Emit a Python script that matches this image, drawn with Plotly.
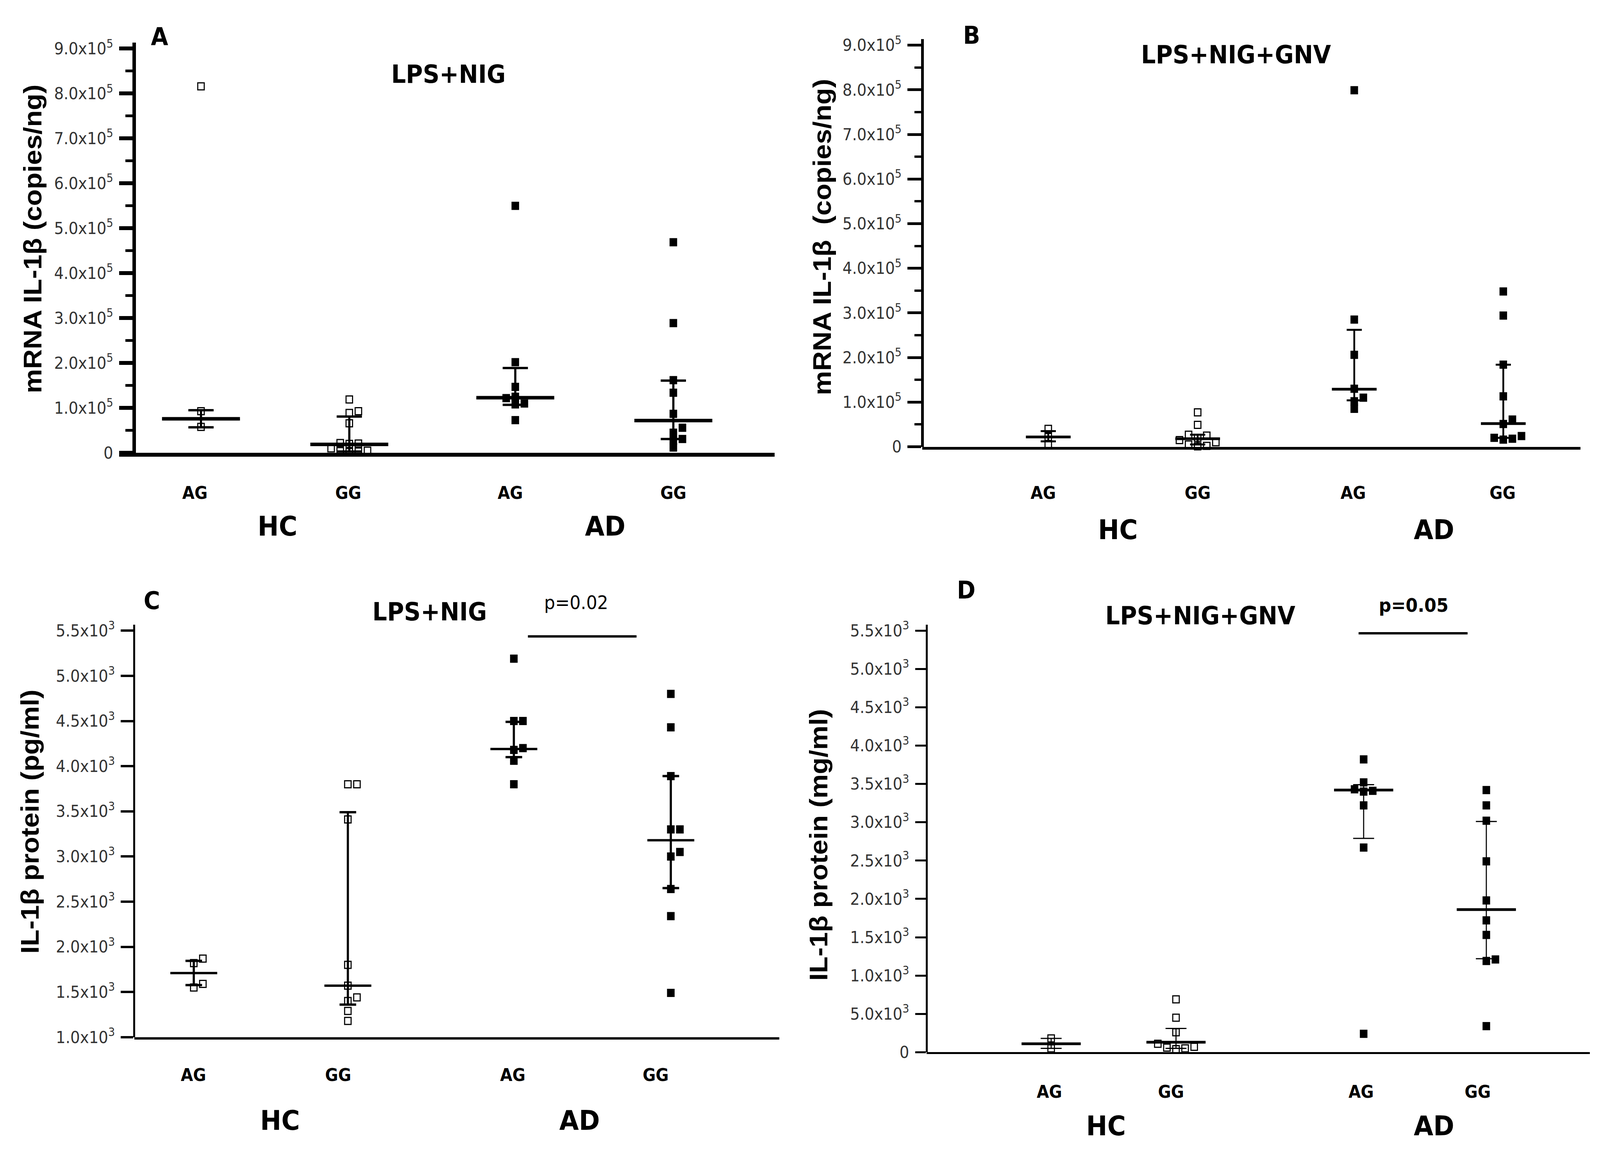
import plotly.graph_objects as go

W, H = 4434, 2959

# ---------------- data ----------------
CATEGORIES = ["AG", "GG", "AG", "GG"]          # HC AG, HC GG, AD AG, AD GG
GROUP_NAMES = ["HC", "AD"]
TITLES = ["LPS+NIG", "LPS+NIG+GNV", "LPS+NIG", "LPS+NIG+GNV"]
PANEL_LETTERS = ["A", "B", "C", "D"]
Y_TITLES = ["mRNA IL-1β (copies/ng)", "mRNA IL-1β  (copies/ng)",
            "IL-1β protein (pg/ml)", "IL-1β protein (mg/ml)"]

# Panel A: mRNA IL-1beta, LPS+NIG (copies/ng)
A_HC_AG = [8.16e5, 0.93e5, 0.58e5]
A_HC_GG = [1.19e5, 0.93e5, 0.89e5, 0.66e5, 0.22e5, 0.21e5, 0.20e5, 0.10e5, 0.05e5, 0.04e5, 0.03e5, 0.02e5]
A_AD_AG = [5.50e5, 2.02e5, 1.47e5, 1.25e5, 1.22e5, 1.10e5, 1.08e5, 0.73e5]
A_AD_GG = [4.69e5, 2.89e5, 1.62e5, 1.34e5, 0.87e5, 0.56e5, 0.45e5, 0.31e5, 0.28e5, 0.12e5]
A_MEDIAN = [0.76e5, 0.19e5, 1.23e5, 0.72e5]
A_Q1 = [0.57e5, 0.03e5, 1.07e5, 0.31e5]
A_Q3 = [0.95e5, 0.81e5, 1.89e5, 1.61e5]

# Panel B: mRNA IL-1beta, LPS+NIG+GNV (copies/ng)
B_HC_AG = [0.40e5, 0.22e5, 0.06e5]
B_HC_GG = [0.77e5, 0.49e5, 0.27e5, 0.25e5, 0.20e5, 0.15e5, 0.10e5, 0.05e5, 0.02e5, 0.01e5]
B_AD_AG = [7.99e5, 2.85e5, 2.06e5, 1.30e5, 1.10e5, 1.02e5, 0.85e5]
B_AD_GG = [3.48e5, 2.94e5, 1.84e5, 1.13e5, 0.61e5, 0.51e5, 0.24e5, 0.20e5, 0.18e5, 0.16e5]
B_MEDIAN = [0.22e5, 0.18e5, 1.29e5, 0.52e5]
B_Q1 = [0.12e5, 0.05e5, 1.04e5, 0.20e5]
B_Q3 = [0.35e5, 0.27e5, 2.62e5, 1.84e5]

# Panel C: IL-1beta protein, LPS+NIG (pg/ml)
C_HC_AG = [1870, 1820, 1590, 1550]
C_HC_GG = [3800, 3800, 3410, 1800, 1570, 1440, 1400, 1290, 1180]
C_AD_AG = [5190, 4500, 4500, 4200, 4180, 4060, 3800]
C_AD_GG = [4800, 4430, 3890, 3300, 3300, 3050, 3000, 2640, 2340, 1490]
C_MEDIAN = [1710, 1570, 4190, 3180]
C_Q1 = [1577, 1360, 4100, 2650]
C_Q3 = [1845, 3490, 4490, 3890]

# Panel D: IL-1beta protein, LPS+NIG+GNV (mg/ml)
D_HC_AG = [180, 50]
D_HC_GG = [690, 450, 260, 110, 70, 60, 50, 40]
D_AD_AG = [3820, 3520, 3430, 3410, 3400, 3220, 2670, 240]
D_AD_GG = [3420, 3220, 3020, 2490, 1980, 1720, 1530, 1210, 1190, 340]
D_MEDIAN = [110, 130, 3420, 1860]
D_Q1 = [50, 50, 2790, 1220]
D_Q3 = [180, 310, 3490, 3010]

# tick values / labels
AB_TICKVALS = [k * 1e5 for k in range(0, 10)]
AB_TICKTEXT = ["0"] + [f"{k}.0x10<sup>5</sup>" for k in range(1, 10)]
AB_MINOR = [(k + 0.5) * 1e5 for k in range(0, 9)]
C_TICKVALS = [1000 + 500 * k for k in range(0, 10)]
C_TICKTEXT = [f"{v/1000:.1f}x10<sup>3</sup>" for v in C_TICKVALS]
D_TICKVALS = [500 * k for k in range(0, 12)]
D_TICKTEXT = ["0", "5.0x10<sup>3</sup>"] + [f"{v/1000:.1f}x10<sup>3</sup>" for v in D_TICKVALS[2:]]

P_TEXTS = [None, None, "p=0.02", "<b>p=0.05</b>"]

# ---------------- layout (pixel geometry of each panel) ----------------
PANELS = [
    dict(pts=[A_HC_AG, A_HC_GG, A_AD_AG, A_AD_GG], med=A_MEDIAN, q1=A_Q1, q3=A_Q3,
         xdom=(330, 2147), ypos=372, ydom=(95, 1160), yr=(0, 9.137e5),
         tv=AB_TICKVALS, tt=AB_TICKTEXT, minor=AB_MINOR,
         cat_x=[557, 968, 1428, 1866], lab_x=[540, 965, 1414, 1866], lab_y=1264,
         grp_x=[769, 1677], grp_y=1350, title_xy=(1242, 177), letter_xy=(442, 80),
         ytitle_xy=(91, 605), axw=10, tlen=37, tw=10, mlen=20, mw=7,
         medhalf=108, medth=9, caphalf=35, capth=6),
    dict(pts=[B_HC_AG, B_HC_GG, B_AD_AG, B_AD_GG], med=B_MEDIAN, q1=B_Q1, q3=B_Q3,
         xdom=(2556, 4380), ypos=2556, ydom=(86, 1144), yr=(0, 9.138e5),
         tv=AB_TICKVALS, tt=AB_TICKTEXT, minor=AB_MINOR,
         cat_x=[2905, 3319, 3753, 4166], lab_x=[2891, 3319, 3750, 4164], lab_y=1264,
         grp_x=[3098, 3974], grp_y=1359, title_xy=(3425, 127), letter_xy=(2692, 77),
         ytitle_xy=(2278, 600), axw=7, tlen=38, tw=7, mlen=19, mw=6,
         medhalf=62, medth=7, caphalf=21, capth=5),
    dict(pts=[C_HC_AG, C_HC_GG, C_AD_AG, C_AD_GG], med=C_MEDIAN, q1=C_Q1, q3=C_Q3,
         xdom=(372, 2160), ypos=372, ydom=(1606, 2676), yr=(1000, 5565),
         tv=C_TICKVALS, tt=C_TICKTEXT, minor=None,
         cat_x=[537, 964, 1424, 1859], lab_x=[536, 937, 1421, 1817], lab_y=2774,
         grp_x=[776, 1606], grp_y=2892, title_xy=(1190, 1572), letter_xy=(421, 1543),
         ytitle_xy=(84, 2117), axw=6, tlen=34, tw=6, mlen=0, mw=0,
         medhalf=65, medth=6, caphalf=23, capth=6,
         pbar=(1463, 1764, 1636), ptext_xy=(1597, 1548)),
    dict(pts=[D_HC_AG, D_HC_GG, D_AD_AG, D_AD_GG], med=D_MEDIAN, q1=D_Q1, q3=D_Q3,
         xdom=(2568, 4406), ypos=2568, ydom=(1606, 2715), yr=(0, 5576),
         tv=D_TICKVALS, tt=D_TICKTEXT, minor=None,
         cat_x=[2913, 3259, 3779, 4119], lab_x=[2908, 3245, 3772, 4095], lab_y=2818,
         grp_x=[3065, 3974], grp_y=2906, title_xy=(3326, 1582), letter_xy=(2677, 1516),
         ytitle_xy=(2268, 2177), axw=5, tlen=30, tw=5, mlen=0, mw=0,
         medhalf=82, medth=7, caphalf=29, capth=3,
         pbar=(3765, 4067, 1628), ptext_xy=(3917, 1555)),
]

MARKER_SIZE = 21
TICK_FONT = dict(family="DejaVu Sans", size=42, color="#333333")


def px_x(px):
    return px / W


def px_y(py):
    return 1 - py / H


def swarm(center, values, ppu, size):
    """simple beeswarm: spread points that would overlap horizontally"""
    order = sorted(range(len(values)), key=lambda i: values[i])
    placed = []
    xs = [center] * len(values)
    step = size * 0.6
    cands = [0.0]
    for m in range(1, 20):
        cands += [m * step, -m * step]
    for i in order:
        y = values[i] * ppu
        for dx in cands:
            ok = True
            for (pxx, pyy) in placed:
                if abs(dx - pxx) < size * 0.85 and abs(y - pyy) < size * 0.85:
                    ok = False
                    break
            if ok:
                break
        placed.append((dx, y))
        xs[i] = center + dx
    return xs


fig = go.Figure()
annotations = []
shapes = []

for i, p in enumerate(PANELS):
    n = i + 1
    xa = "x" if n == 1 else f"x{n}"
    ya = "y" if n == 1 else f"y{n}"
    ppu = (p["ydom"][1] - p["ydom"][0]) / (p["yr"][1] - p["yr"][0])

    for g, vals in enumerate(p["pts"]):
        open_marker = g < 2
        xs = swarm(p["cat_x"][g], vals, ppu, MARKER_SIZE)
        fig.add_trace(go.Scatter(
            x=xs, y=vals, mode="markers", xaxis=xa, yaxis=ya,
            marker=dict(symbol="square", size=MARKER_SIZE - (3 if open_marker else 0),
                        color="white" if open_marker else "black",
                        line=dict(color="black", width=3 if open_marker else 0)),
            cliponaxis=False, showlegend=False, hoverinfo="skip"))
    for g in range(4):
        med = p["med"][g]
        fig.add_trace(go.Scatter(
            x=[p["cat_x"][g]], y=[med], mode="markers", xaxis=xa, yaxis=ya,
            marker=dict(size=1, color="rgba(0,0,0,0)"),
            error_y=dict(type="data", symmetric=False, array=[p["q3"][g] - med],
                         arrayminus=[med - p["q1"][g]], width=p["caphalf"],
                         thickness=p["capth"], color="black"),
            error_x=dict(type="constant", value=p["medhalf"], width=0,
                         thickness=p["medth"], color="black"),
            cliponaxis=False, showlegend=False, hoverinfo="skip"))

    xaxis = dict(domain=[px_x(p["xdom"][0]), px_x(p["xdom"][1])], range=list(p["xdom"]),
                 anchor=ya, showline=True, linecolor="black", linewidth=p["axw"],
                 showticklabels=False, ticks="", showgrid=False, zeroline=False,
                 fixedrange=True)
    yaxis = dict(domain=[px_y(p["ydom"][1]), px_y(p["ydom"][0])], range=list(p["yr"]),
                 anchor="free", position=px_x(p["ypos"]), showline=True,
                 linecolor="black", linewidth=p["axw"], ticks="outside",
                 ticklen=p["tlen"], tickwidth=p["tw"], tickcolor="black",
                 tickmode="array", tickvals=p["tv"], ticktext=p["tt"],
                 tickfont=TICK_FONT, ticklabelstandoff=8,
                 showgrid=False, zeroline=False, fixedrange=True)
    if p["minor"]:
        yaxis["minor"] = dict(tickmode="array", tickvals=p["minor"], ticks="outside",
                              ticklen=p["mlen"], tickwidth=p["mw"], tickcolor="black",
                              showgrid=False)
    fig.update_layout(**{("xaxis" if n == 1 else f"xaxis{n}"): xaxis,
                         ("yaxis" if n == 1 else f"yaxis{n}"): yaxis})

    # category labels
    for g, lab in enumerate(CATEGORIES):
        annotations.append(dict(text=f"<b>{lab}</b>", x=px_x(p["lab_x"][g]), y=px_y(p["lab_y"]),
                                xref="paper", yref="paper", showarrow=False,
                                xanchor="center", yanchor="middle",
                                font=dict(family="DejaVu Sans", size=44, color="black")))
    for g, lab in enumerate(GROUP_NAMES):
        annotations.append(dict(text=f"<b>{lab}</b>", x=px_x(p["grp_x"][g]), y=px_y(p["grp_y"]),
                                xref="paper", yref="paper", showarrow=False,
                                xanchor="center", yanchor="middle",
                                font=dict(family="DejaVu Sans", size=70, color="black")))
    annotations.append(dict(text=f"<b>{TITLES[i]}</b>", x=px_x(p["title_xy"][0]),
                            y=px_y(p["title_xy"][1]),
                            xref="paper", yref="paper", showarrow=False,
                            xanchor="center", yanchor="middle",
                            font=dict(family="DejaVu Sans", size=64, color="black")))
    annotations.append(dict(text=f"<b>{PANEL_LETTERS[i]}</b>", x=px_x(p["letter_xy"][0]),
                            y=px_y(p["letter_xy"][1]), xref="paper", yref="paper",
                            showarrow=False, xanchor="center", yanchor="middle",
                            font=dict(family="DejaVu Sans", size=62, color="black")))
    annotations.append(dict(text=f"<b>{Y_TITLES[i]}</b>", x=px_x(p["ytitle_xy"][0]),
                            y=px_y(p["ytitle_xy"][1]), xref="paper", yref="paper",
                            showarrow=False, textangle=-90, xanchor="center",
                            yanchor="middle",
                            font=dict(family="Liberation Sans", size=70, color="black")))
    if P_TEXTS[i]:
        x0, x1, yb = p["pbar"]
        shapes.append(dict(type="line", xref="paper", yref="paper",
                           x0=px_x(x0), x1=px_x(x1), y0=px_y(yb), y1=px_y(yb),
                           line=dict(color="black", width=6)))
        annotations.append(dict(text=P_TEXTS[i], x=px_x(p["ptext_xy"][0]),
                                y=px_y(p["ptext_xy"][1]), xref="paper", yref="paper",
                                showarrow=False, xanchor="center", yanchor="middle",
                                font=dict(family="DejaVu Sans", size=48, color="black")))

fig.update_layout(width=W, height=H, margin=dict(l=0, r=0, t=0, b=0),
                  paper_bgcolor="white", plot_bgcolor="white",
                  showlegend=False, annotations=annotations, shapes=shapes)

# stretch the fixed-size figure so that it fills the browser viewport exactly,
# and make the page itself exactly one viewport in size
POST_SCRIPT = """
var vw = window.innerWidth, vh = window.innerHeight;
var sx = vw / %d, sy = vh / %d;
document.documentElement.style.margin = '0';
document.documentElement.style.overflow = 'hidden';
document.body.style.margin = '0';
document.body.style.overflow = 'hidden';
var gd = document.getElementById('{plot_id}');
var wrap = gd.parentElement;
wrap.style.width = vw + 'px';
wrap.style.height = vh + 'px';
wrap.style.overflow = 'hidden';
wrap.style.position = 'relative';
gd.style.position = 'absolute';
gd.style.left = '0px';
gd.style.top = '0px';
gd.style.transformOrigin = '0 0';
gd.style.transform = 'scale(' + sx + ',' + sy + ')';
""" % (W, H)

fig.write_html("out.html", post_script=POST_SCRIPT,
               config={"displayModeBar": False, "staticPlot": True})
